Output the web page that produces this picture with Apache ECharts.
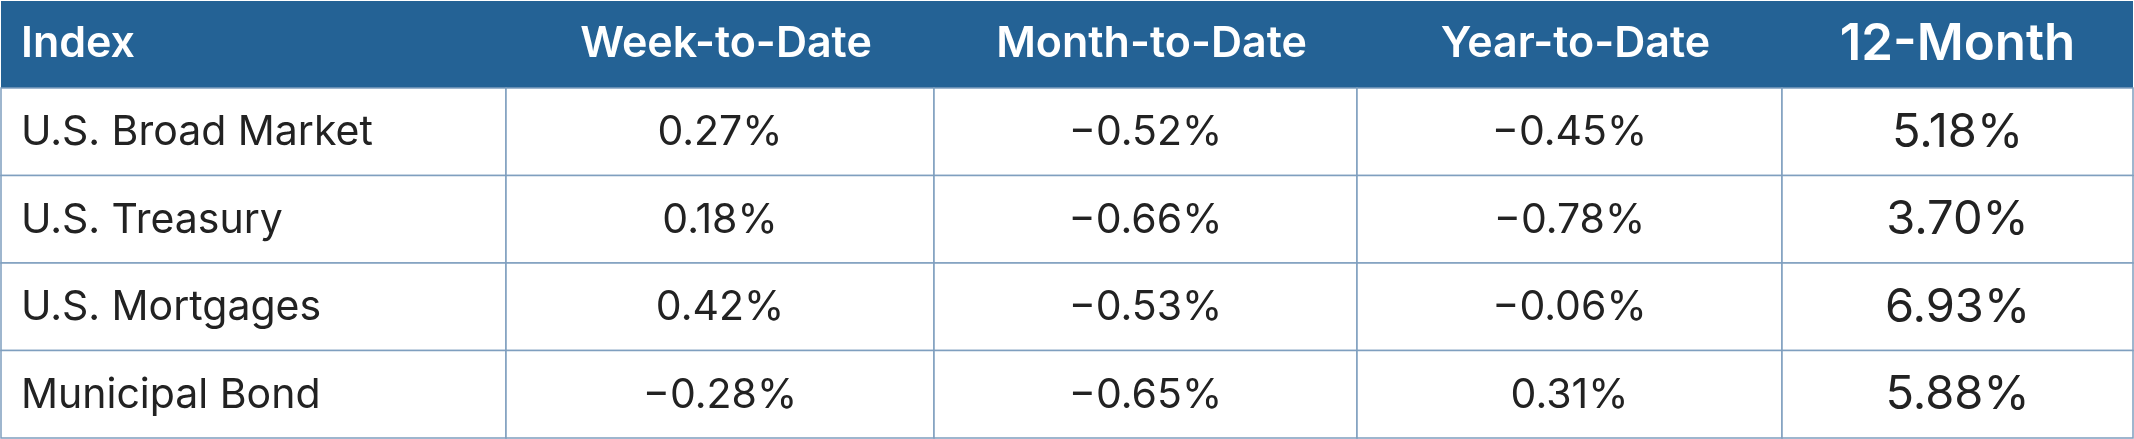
<!DOCTYPE html>
<html><head><meta charset="utf-8">
<script src="https://cdn.jsdelivr.net/npm/echarts@6/dist/echarts.min.js"></script>
<style>html,body{margin:0;padding:0;background:#fff}#c{width:2134px;height:439px}</style>
</head><body><div id="c"></div>
<script>
const headers = ['Index','Week-to-Date','Month-to-Date','Year-to-Date','12-Month'];
const indices = ['U.S. Broad Market','U.S. Treasury','U.S. Mortgages','Municipal Bond'];
const weekToDate = ['0.27%','0.18%','0.42%','\u22120.28%'];
const monthToDate = ['\u22120.52%','\u22120.66%','\u22120.53%','\u22120.65%'];
const yearToDate = ['\u22120.45%','\u22120.78%','\u22120.06%','0.31%'];
const twelveMonth = ['5.18%','3.70%','6.93%','5.88%'];

const cols = [indices, weekToDate, monthToDate, yearToDate, twelveMonth];
const colEdges = [1, 506, 934, 1357, 1782, 2133];
const headerH = 88, rowH = 87.5;
const data = [];
headers.forEach((h,c)=>data.push([c,-1,h]));
cols.forEach((arr,c)=>arr.forEach((v,r)=>data.push([c,r,v])));

const chart = echarts.init(document.getElementById('c'));
chart.setOption({
  animation:false,
  xAxis:{type:'value',show:false,min:0,max:5},
  yAxis:{type:'value',show:false,min:0,max:5},
  grid:{left:0,right:0,top:0,bottom:0},
  series:[{
    type:'custom',
    data:data,
    renderItem:function(params, api){
      const c = api.value(0), r = api.value(1), txt = data[params.dataIndex][2];
      const x0 = colEdges[c], x1 = colEdges[c+1];
      const isH = r < 0;
      const y0 = isH ? 1 : headerH + r*rowH;
      const h = isH ? headerH-1 : rowH;
      const big = c === 4;
      const left = c === 0;
      return {type:'group',children:[
        {type:'rect',shape:{x:x0,y:y0,width:x1-x0,height:h},
          style:{fill:isH?'#246295':'#ffffff',stroke:isH?'#246295':'#7f9fbf',lineWidth:isH?0:1.5}},
        {type:'text',style:{
          text:txt,
          x:left? x0+20 : (x0+x1)/2 + (isH&&!big?6:0),
          y:y0+h/2 + (isH?0:1),
          align:left?'left':'center',verticalAlign:'middle',
          fill:isH?'#ffffff':'#222222',
          fontFamily:'Inter',
          fontWeight:isH?600:400,
          fontSize:isH?(big?51:43):(big?47:41)
        }}
      ]};
    }
  }]
});
</script></body></html>
